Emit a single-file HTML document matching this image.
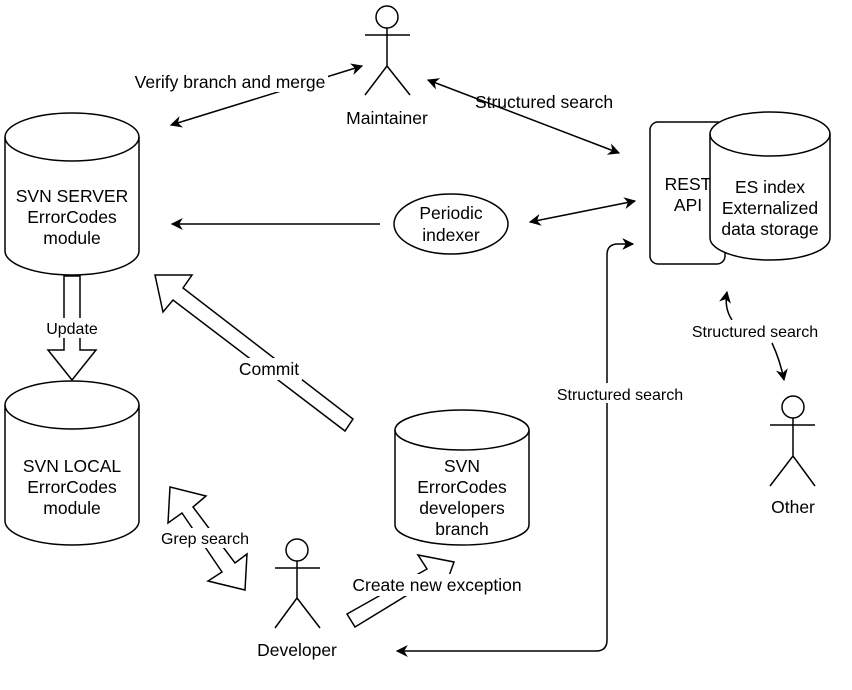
<!DOCTYPE html>
<html><head><style>
html,body{margin:0;padding:0;background:#fff;}
svg{display:block;}
text{font-family:"Liberation Sans",sans-serif;font-size:17.5px;fill:#000;text-anchor:middle;}
.s{font-size:16px;}
</style></head><body>
<svg width="852" height="690" viewBox="0 0 852 690" xmlns="http://www.w3.org/2000/svg">
<defs>
<marker id="a" viewBox="0 0 10 10" refX="9" refY="5" markerWidth="12" markerHeight="12" orient="auto-start-reverse" markerUnits="userSpaceOnUse">
<path d="M0,0 L10,5 L0,10 L3,5 z" fill="#000"/>
</marker>
</defs>
<g fill="#fff" stroke="#000" stroke-width="1.5">
<path d="M5,137 A67,24 0 0 1 139,137 L139,251 A67,24 0 0 1 5,251 Z"/>
<path d="M5,137 A67,24 0 0 0 139,137" fill="none"/>
<path d="M5,405 A67,24 0 0 1 139,405 L139,521 A67,24 0 0 1 5,521 Z"/>
<path d="M5,405 A67,24 0 0 0 139,405" fill="none"/>
<path d="M395,430 A67,20 0 0 1 529,430 L529,525 A67,20 0 0 1 395,525 Z"/>
<path d="M395,430 A67,20 0 0 0 529,430" fill="none"/>
<rect x="650" y="122" width="75" height="142" rx="8"/>
</g>
<text x="688" y="190">REST</text>
<text x="688" y="211">API</text>
<g fill="#fff" stroke="#000" stroke-width="1.5">
<path d="M710,134 A60,22 0 0 1 830,134 L830,238 A60,22 0 0 1 710,238 Z"/>
<path d="M710,134 A60,22 0 0 0 830,134" fill="none"/>
<ellipse cx="451" cy="224" rx="57" ry="30"/>
<polygon points="64,276 80,276 80,350 96,350 72,380 48,350 64,350"/>
<polygon points="155,275 192,275 183,288 353,419 345,431 173,300 163,312"/>
<polygon points="170,487 206,496 193,507 235,563 247,554 245,590 208,581 222,572 182,513 168,523"/>
<polygon points="347,614 427,569 418,555 454,562 449,576 440,575 355,627"/>
</g>
<g fill="none" stroke="#000" stroke-width="1.5">
<circle cx="387" cy="17" r="11" fill="#fff"/>
<path d="M365,35 H410 M387,28 V66 L365,95 M387,66 L410,95"/>
<circle cx="793" cy="407" r="11" fill="#fff"/>
<path d="M770,425 H815 M793,418 V456 L770,486 M793,456 L815,486"/>
<circle cx="297" cy="550" r="11" fill="#fff"/>
<path d="M275,568 H320 M297,561 V598 L275,628 M297,598 L320,628"/>
<line x1="380" y1="224" x2="172" y2="224" marker-end="url(#a)"/>
<line x1="530" y1="222" x2="635" y2="201" marker-start="url(#a)" marker-end="url(#a)"/>
<line x1="428" y1="80" x2="619" y2="153" marker-start="url(#a)" marker-end="url(#a)"/>
<line x1="171" y1="125" x2="362" y2="66" marker-start="url(#a)" marker-end="url(#a)"/>
<path d="M607,380 V255 Q607,244 618,244 H633" marker-end="url(#a)"/>
<path d="M607,380 V640 Q607,651 596,651 H397" marker-end="url(#a)"/>
<path d="M732,320 Q724,308 727,292" marker-end="url(#a)"/>
<path d="M772,343 Q780,360 784,380" marker-end="url(#a)"/>
</g>
<g fill="#fff">
<rect x="130" y="70" width="198" height="22"/>
<rect x="42" y="318" width="60" height="20"/>
<rect x="236" y="358" width="66" height="22"/>
<rect x="158" y="528" width="94" height="20"/>
<rect x="348" y="574" width="180" height="22"/>
<rect x="552" y="383" width="136" height="20"/>
<rect x="688" y="320" width="136" height="20"/>
</g>
<text x="230" y="88">Verify branch and merge</text>
<text x="387" y="124">Maintainer</text>
<text x="544" y="108">Structured search</text>
<text x="72" y="202">SVN SERVER</text>
<text x="72" y="223">ErrorCodes</text>
<text x="72" y="244">module</text>
<text x="451" y="219">Periodic</text>
<text x="451" y="241">indexer</text>
<text x="770" y="193">ES index</text>
<text x="770" y="214">Externalized</text>
<text x="770" y="235">data storage</text>
<text x="72" y="334" class="s">Update</text>
<text x="269" y="375">Commit</text>
<text x="72" y="472">SVN LOCAL</text>
<text x="72" y="493">ErrorCodes</text>
<text x="72" y="514">module</text>
<text x="462" y="472">SVN</text>
<text x="462" y="493">ErrorCodes</text>
<text x="462" y="514">developers</text>
<text x="462" y="535">branch</text>
<text x="205" y="544" class="s">Grep search</text>
<text x="437" y="591">Create new exception</text>
<text x="297" y="656">Developer</text>
<text x="620" y="400" class="s">Structured search</text>
<text x="755" y="337" class="s">Structured search</text>
<text x="793" y="513">Other</text>
</svg>
</body></html>
